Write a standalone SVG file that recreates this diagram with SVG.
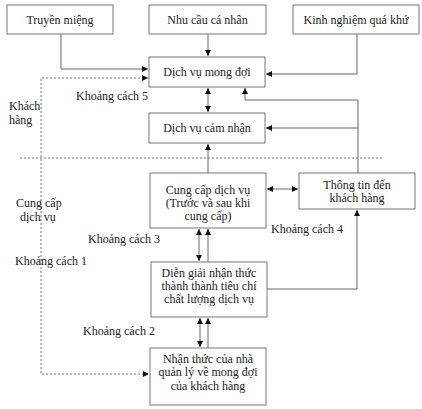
<svg xmlns="http://www.w3.org/2000/svg" width="422" height="409" viewBox="0 0 422 409">
<defs>
<marker id="ah" viewBox="0 0 10 10" refX="10" refY="5" markerWidth="6" markerHeight="6" markerUnits="userSpaceOnUse" orient="auto-start-reverse">
<path d="M0,0 L10,5 L0,10 z" fill="#111"/>
</marker>
<style>
rect.box{fill:#fff;stroke:#777;stroke-width:1}
text{font-family:"Times New Roman","Liberation Serif","DejaVu Serif",serif;font-size:12px;fill:#222}
.c{text-anchor:middle}
.ln{fill:none;stroke:#666;stroke-width:1}
.dot{fill:none;stroke:#777;stroke-width:1;stroke-dasharray:2,2}
</style>
</defs>
<rect width="422" height="409" fill="#fff"/>
<g id="connectors">
<polyline class="ln" points="61,34 61,69 148,69" marker-end="url(#ah)"/>
<line class="ln" x1="208" y1="34" x2="208" y2="56" marker-end="url(#ah)"/>
<polyline class="ln" points="357,34 357,74 266,74" marker-end="url(#ah)"/>
<polyline class="dot" points="148,78 41,78 41,374 149,374" marker-start="url(#ah)" marker-end="url(#ah)"/>
<line class="dot" x1="20" y1="158" x2="382" y2="158"/>
<line class="ln" x1="208" y1="88" x2="208" y2="112" marker-start="url(#ah)" marker-end="url(#ah)"/>
<line class="ln" x1="208" y1="173" x2="208" y2="144" marker-end="url(#ah)"/>
<polyline class="ln" points="358,173 358,100 245,100 245,88" marker-end="url(#ah)"/>
<line class="ln" x1="358" y1="128" x2="266" y2="128" marker-end="url(#ah)"/>
<line class="ln" x1="267" y1="189" x2="298" y2="189" marker-start="url(#ah)" marker-end="url(#ah)"/>
<line class="ln" x1="199" y1="229" x2="199" y2="261" marker-start="url(#ah)" marker-end="url(#ah)"/>
<line class="ln" x1="208" y1="262" x2="208" y2="229" marker-end="url(#ah)"/>
<line class="ln" x1="200" y1="318" x2="200" y2="347" marker-start="url(#ah)" marker-end="url(#ah)"/>
<line class="ln" x1="208" y1="348" x2="208" y2="318" marker-end="url(#ah)"/>
<polyline class="ln" points="267,289 357,289 357,210" marker-end="url(#ah)"/>
</g>
<g id="truyen-mieng"><rect class="box" x="7" y="5" width="106" height="29"/><text class="c" x="60" y="24">Truyền miệng</text></g>
<g id="nhu-cau"><rect class="box" x="149" y="5" width="117" height="29"/><text class="c" x="207.5" y="24">Nhu cầu cá nhân</text></g>
<g id="kinh-nghiem"><rect class="box" x="293" y="5" width="126" height="29"/><text class="c" x="356" y="24">Kinh nghiệm quá khứ</text></g>
<g id="mong-doi"><rect class="box" x="149" y="57" width="116" height="30"/><text class="c" x="207" y="76">Dịch vụ mong đợi</text></g>
<g id="cam-nhan"><rect class="box" x="149" y="113" width="116" height="30"/><text class="c" x="207" y="132">Dịch vụ cảm nhận</text></g>
<g id="cung-cap"><rect class="box" x="150" y="173" width="116" height="55"/>
<text class="c" x="208" y="194">Cung cấp dịch vụ</text>
<text class="c" x="208" y="207">(Trước và sau khi</text>
<text class="c" x="208" y="220">cung cấp)</text></g>
<g id="thong-tin"><rect class="box" x="299" y="173" width="116" height="36"/>
<text class="c" x="357" y="189">Thông tin đến</text>
<text class="c" x="357" y="202">khách hàng</text></g>
<g id="dien-giai"><rect class="box" x="151" y="262" width="116" height="55"/>
<text class="c" x="209" y="277">Diễn giải nhận thức</text>
<text class="c" x="209" y="290">thành thành tiêu chí</text>
<text class="c" x="209" y="303">chất lượng dịch vụ</text></g>
<g id="nhan-thuc"><rect class="box" x="150" y="348" width="116" height="57"/>
<text class="c" x="208" y="363">Nhận thức của nhà</text>
<text class="c" x="208" y="376">quản lý về mong đợi</text>
<text class="c" x="208" y="390">của khách hàng</text></g>
<g id="labels">
<text x="76" y="100">Khoảng cách 5</text>
<text x="9" y="110">Khách</text>
<text x="9" y="124">hàng</text>
<text x="16" y="207">Cung cấp</text>
<text x="20" y="221">dịch vụ</text>
<text x="88" y="243">Khoảng cách 3</text>
<text x="271" y="233">Khoảng cách 4</text>
<text x="15" y="265">Khoảng cách 1</text>
<text x="83" y="335">Khoảng cách 2</text>
</g>
</svg>
